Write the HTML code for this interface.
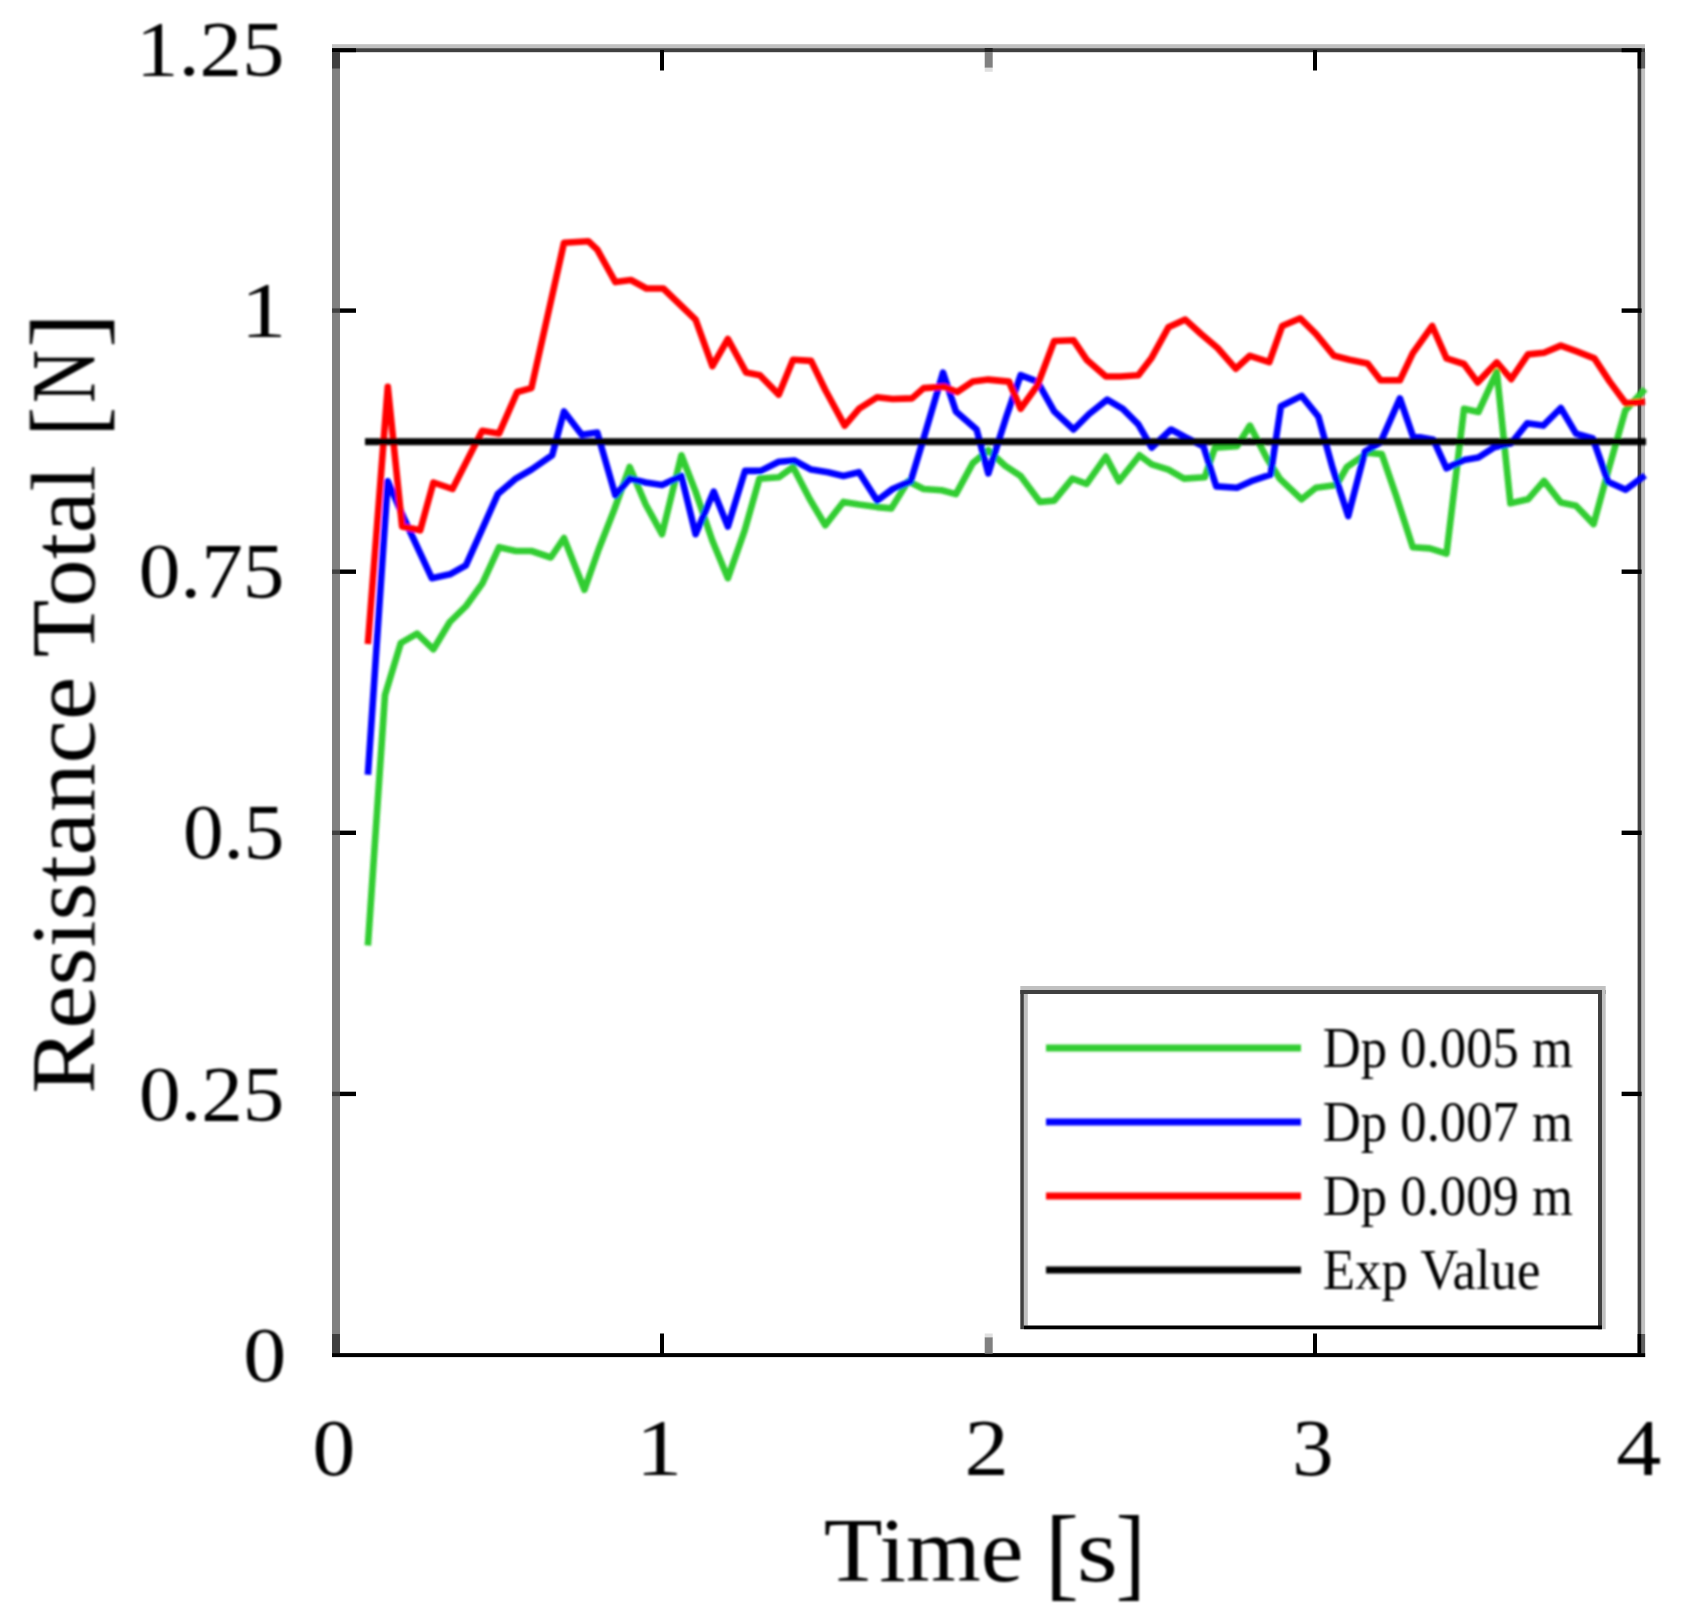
<!DOCTYPE html>
<html lang="en">
<head>
<meta charset="utf-8">
<title>Resistance Total vs Time</title>
<style>
html,body{margin:0;padding:0;background:#fff;}
body{width:1694px;height:1624px;overflow:hidden;}
svg{display:block;}
text{font-family:"Liberation Serif","DejaVu Serif",serif;fill:#000;}
.tk{font-size:80px;}
.ax{font-size:92px;}
.br{font-size:102px;}
.lg{font-size:57px;}
.cv{fill:none;stroke-width:6.6;stroke-linejoin:round;stroke-linecap:butt;}
</style>
</head>
<body>
<svg width="1694" height="1624" viewBox="0 0 1694 1624">
<rect width="1694" height="1624" fill="#fff"/>
<!-- plot frame -->
<g id="frame">
<rect x="332" y="44.2" width="1313" height="4" fill="#c0c0c0"/>
<rect x="332" y="48.2" width="1313" height="4" fill="#404040"/>
<rect x="332" y="52" width="8" height="1305" fill="#808080"/>
<rect x="1637.6" y="52" width="4" height="1305" fill="#404040"/>
<rect x="1641.5" y="52" width="3.6" height="1305" fill="#c0c0c0"/>
<rect x="332" y="1353.1" width="1313.2" height="4" fill="#000"/>
</g>
<g id="ticks">
<rect x="660.0" y="1333.5" width="4" height="21" fill="#000"/>
<rect x="660.0" y="50" width="4" height="20.5" fill="#000"/>
<rect x="1313.0" y="1333.5" width="4" height="21" fill="#000"/>
<rect x="1313.0" y="50" width="4" height="20.5" fill="#000"/>
<rect x="984.7" y="1337.2" width="8" height="16.5" fill="#808080"/>
<rect x="984.7" y="1333.5" width="8" height="3.7" fill="#e0e0e0"/>
<rect x="984.7" y="51.8" width="8" height="16" fill="#808080"/>
<rect x="984.7" y="48" width="8" height="3.9" fill="#202020"/>
<rect x="984.7" y="67.8" width="8" height="4" fill="#e0e0e0"/>
<rect x="340" y="1091.7" width="16" height="4.4" fill="#000"/>
<rect x="332" y="1091.7" width="8" height="4.4" fill="#404040"/>
<rect x="1621.6" y="1091.7" width="20" height="4.4" fill="#000"/>
<rect x="340" y="830.6" width="16" height="4.4" fill="#000"/>
<rect x="332" y="830.6" width="8" height="4.4" fill="#404040"/>
<rect x="1621.6" y="830.6" width="20" height="4.4" fill="#000"/>
<rect x="340" y="569.5" width="16" height="4.4" fill="#000"/>
<rect x="332" y="569.5" width="8" height="4.4" fill="#404040"/>
<rect x="1621.6" y="569.5" width="20" height="4.4" fill="#000"/>
<rect x="340" y="308.4" width="16" height="4.4" fill="#000"/>
<rect x="332" y="308.4" width="8" height="4.4" fill="#404040"/>
<rect x="1621.6" y="308.4" width="20" height="4.4" fill="#000"/>
<rect x="332" y="48.2" width="24" height="4" fill="#000"/>
<rect x="1621.6" y="48.2" width="20" height="4" fill="#000"/>
<rect x="332" y="52" width="8" height="16.5" fill="#404040"/>
<rect x="332" y="1334" width="8" height="19" fill="#404040"/>
<rect x="1637.6" y="52" width="4" height="16.5" fill="#000"/>
<rect x="1641.5" y="52" width="3.6" height="16.5" fill="#606060"/>
<rect x="1637.6" y="1334" width="4" height="19" fill="#000"/>
<rect x="1641.5" y="1334" width="3.6" height="19" fill="#606060"/>
</g>
<!-- data curves -->
<defs><filter id="soft" x="0" y="0" width="1694" height="1624" filterUnits="userSpaceOnUse"><feGaussianBlur stdDeviation="1.1"/></filter><filter id="softt" x="0" y="0" width="1694" height="1624" filterUnits="userSpaceOnUse"><feGaussianBlur stdDeviation="0.8"/></filter></defs>
<g id="curves" filter="url(#soft)">
<polyline class="cv" stroke="#32cd32" points="367.9,945.5 385.0,695.0 400.8,643.0 417.1,633.7 433.4,649.3 449.8,622.0 466.1,606.0 482.4,583.3 499.1,547.2 515.9,551.0 531.4,551.0 550.8,557.5 564.0,538.1 584.4,589.8 598.6,549.5 614.1,510.0 629.7,467.0 645.7,504.5 662.0,534.2 681.4,455.3 695.6,491.6 712.4,540.7 727.9,578.2 744.7,530.3 759.4,478.6 778.8,477.3 793.0,467.0 809.8,499.3 825.3,525.2 843.4,501.9 859.0,504.5 877.1,507.1 891.3,508.4 908.1,481.2 923.6,489.0 941.7,490.3 955.9,494.1 972.8,463.1 988.3,450.2 1005.1,465.7 1020.6,476.0 1040.0,501.9 1054.2,500.6 1072.3,478.6 1086.6,483.8 1105.9,456.6 1118.9,481.2 1139.6,455.3 1151.7,464.4 1168.4,469.6 1184.0,478.6 1204.7,477.3 1215.0,447.6 1237.0,446.3 1249.9,425.6 1266.7,457.9 1279.7,478.6 1301.6,499.3 1315.9,487.7 1336.6,485.1 1346.9,467.0 1367.6,452.8 1381.8,454.1 1396.0,495.4 1412.8,547.2 1429.7,548.4 1446.5,553.6 1464.0,408.8 1478.4,412.0 1496.8,372.0 1510.4,503.3 1528.0,499.3 1544.0,480.9 1560.8,502.5 1576.0,505.7 1593.6,524.1 1609.0,468.0 1625.3,410.5 1645.0,389.0"/>
<polyline class="cv" stroke="#0000ff" points="367.9,774.7 387.8,481.2 404.7,520.0 431.8,578.2 449.9,574.3 465.9,565.3 482.2,529.1 497.8,494.1 515.9,478.6 531.4,469.6 552.1,455.3 564.0,411.4 581.8,434.7 597.3,432.6 615.4,495.4 629.7,478.6 645.7,482.5 662.0,485.1 681.4,476.0 695.6,534.2 713.7,491.6 727.9,526.5 745.0,470.9 760.7,470.9 778.8,461.8 794.3,460.5 811.1,469.6 827.9,472.2 843.4,476.0 859.0,472.2 877.1,500.6 892.6,489.0 910.7,481.2 923.6,438.5 943.0,372.6 955.9,411.4 976.6,429.5 988.3,473.4 1006.4,416.6 1020.6,375.2 1037.4,381.6 1054.2,411.4 1073.6,429.5 1089.1,414.0 1107.2,399.7 1122.8,408.8 1138.3,424.3 1151.7,447.6 1171.0,429.5 1185.3,437.2 1203.4,446.3 1216.3,486.4 1237.0,487.7 1251.2,481.2 1270.6,474.7 1280.9,406.2 1301.6,395.9 1318.4,416.6 1332.7,468.3 1348.2,516.1 1365.0,451.5 1380.5,442.4 1399.9,398.4 1412.8,435.9 1433.5,439.8 1446.5,468.3 1464.0,460.0 1478.4,457.6 1494.4,447.2 1511.2,443.2 1527.2,423.2 1543.2,425.6 1560.8,408.0 1576.0,433.6 1592.8,438.4 1608.0,481.7 1625.7,489.7 1645.0,475.3"/>
<polyline class="cv" stroke="#ff0000" points="367.9,644.0 387.8,386.8 402.1,526.5 420.2,530.3 433.4,482.5 452.5,489.0 482.2,430.8 499.1,433.4 517.2,392.0 531.4,388.1 564.0,242.8 588.3,241.2 597.3,249.7 615.4,282.1 630.9,280.0 646.5,288.5 663.3,288.5 695.6,319.6 712.4,366.1 727.9,339.0 746.2,372.6 759.9,375.2 778.8,394.6 793.0,359.7 811.1,360.9 825.3,390.0 844.7,425.6 859.0,408.8 877.1,397.2 892.6,399.0 912.0,398.4 923.6,388.1 944.3,386.8 957.2,392.0 972.8,381.6 988.3,379.6 1009.0,381.6 1020.6,408.8 1037.4,385.5 1054.2,341.0 1073.6,340.3 1086.6,359.7 1105.9,376.5 1120.2,376.5 1138.3,375.2 1151.7,357.7 1168.4,327.3 1185.3,319.6 1200.8,333.8 1217.6,348.0 1235.7,368.7 1249.9,355.8 1269.3,362.2 1282.2,326.0 1300.3,318.3 1315.9,333.8 1334.0,355.8 1349.5,359.7 1367.6,363.5 1380.5,380.3 1399.9,380.3 1412.8,353.2 1432.2,326.0 1446.5,358.4 1464.0,364.0 1477.6,382.4 1496.8,362.4 1511.2,379.2 1528.0,354.4 1544.0,352.8 1560.8,345.6 1576.0,351.2 1594.4,358.4 1609.7,381.6 1625.7,403.2 1645.0,401.6"/>
<rect x="365" y="438.2" width="1281" height="7" fill="#000"/>
</g>
<!-- legend -->
<g id="legend">
<rect x="1020.3" y="986" width="585.4" height="343.2" fill="#fff"/>
<rect x="1020.3" y="986" width="585.4" height="4" fill="#c0c0c0"/>
<rect x="1020.3" y="990" width="585.4" height="4" fill="#404040"/>
<rect x="1020.3" y="990" width="3.6" height="339.2" fill="#404040"/>
<rect x="1023.9" y="994" width="3.9" height="331.6" fill="#c0c0c0"/>
<rect x="1598" y="990" width="4" height="339.2" fill="#404040"/>
<rect x="1602" y="990" width="3.7" height="339.2" fill="#c0c0c0"/>
<rect x="1023.9" y="1325.5" width="578" height="3.8" fill="#000"/>
<line x1="1046" y1="1048" x2="1301" y2="1048" stroke="#32cd32" stroke-width="7" filter="url(#soft)"/>
<line x1="1046" y1="1122" x2="1301" y2="1122" stroke="#0000ff" stroke-width="7" filter="url(#soft)"/>
<line x1="1046" y1="1196" x2="1301" y2="1196" stroke="#ff0000" stroke-width="7" filter="url(#soft)"/>
<line x1="1046" y1="1270" x2="1301" y2="1270" stroke="#000000" stroke-width="7" filter="url(#soft)"/>
<g id="legendtext" filter="url(#softt)">
<text class="lg" transform="translate(1322.85,1067.30) scale(0.9239,1)">Dp 0.005 m</text>
<text class="lg" transform="translate(1322.85,1141.30) scale(0.9239,1)">Dp 0.007 m</text>
<text class="lg" transform="translate(1322.85,1215.30) scale(0.9239,1)">Dp 0.009 m</text>
<text class="lg" transform="translate(1322.85,1289.30) scale(0.9264,1)">Exp Value</text>
</g>
</g>
<!-- tick labels -->
<g id="ylabels" filter="url(#softt)">
<text class="tk" transform="translate(243.17,1380.60) scale(1.0765,0.975)">0</text>
<text class="tk" transform="translate(138.88,1119.50) scale(1.0396,0.975)">0.25</text>
<text class="tk" transform="translate(182.96,858.40) scale(1.0138,0.975)">0.5</text>
<text class="tk" transform="translate(138.68,597.30) scale(1.0410,0.975)">0.75</text>
<text class="tk" transform="translate(240.72,336.20) scale(1.1393,0.975)">1</text>
<text class="tk" transform="translate(135.97,75.10) scale(1.0608,0.975)">1.25</text>
</g>
<g id="xlabels" filter="url(#softt)">
<text class="tk" transform="translate(312.59,1475.30) scale(1.0706,1)">0</text>
<text class="tk" transform="translate(635.65,1475.30) scale(1.1643,1)">1</text>
<text class="tk" transform="translate(964.58,1475.30) scale(1.1062,1)">2</text>
<text class="tk" transform="translate(1292.28,1475.30) scale(1.0303,1)">3</text>
<text class="tk" transform="translate(1616.25,1475.30) scale(1.1270,1)">4</text>
</g>
<!-- axis titles -->
<g id="titles" filter="url(#softt)">
<text class="ax" y="1581.3"><tspan x="823.81" textLength="199.75" lengthAdjust="spacingAndGlyphs">Time</tspan> <tspan x="1044.73" textLength="34.26" lengthAdjust="spacingAndGlyphs" dy="5.5" font-size="103.3">[</tspan><tspan x="1076.70" textLength="41.18" lengthAdjust="spacingAndGlyphs" dy="-5.5">s</tspan><tspan x="1115.76" textLength="29.62" lengthAdjust="spacingAndGlyphs" dy="5.5" font-size="103.3">]</tspan></text>
<text class="ax" transform="translate(94.3,0) rotate(-90)" y="0"><tspan x="-1093.68" textLength="416.82" lengthAdjust="spacingAndGlyphs">Resistance</tspan> <tspan x="-657.35" textLength="192.12" lengthAdjust="spacingAndGlyphs">Total</tspan> <tspan x="-436.61" textLength="29.71" lengthAdjust="spacingAndGlyphs" dy="5.7" font-size="100.6">[</tspan><tspan x="-403.00" textLength="53.16" lengthAdjust="spacingAndGlyphs" dy="-5.7">N</tspan><tspan x="-347.90" textLength="35.17" lengthAdjust="spacingAndGlyphs" dy="5.7" font-size="100.6">]</tspan></text>
</g>
</svg>
</body>
</html>
